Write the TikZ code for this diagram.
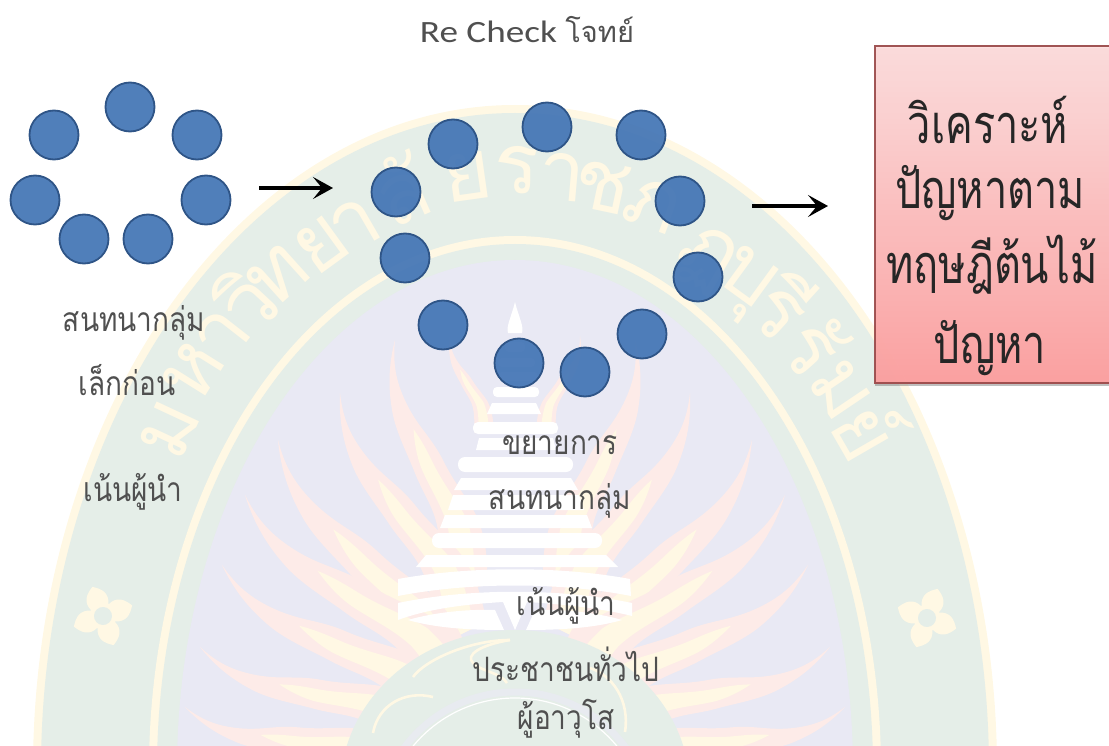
\documentclass[tikz,border=0pt]{standalone}
\usepackage{fontspec}
\setmainfont{Carlito}
\newfontfamily\thaifont[Script=Thai]{Loma}
\newfontfamily\titlefont[FakeStretch=1.2]{Carlito}
\usetikzlibrary{arrows.meta,shadows}
\definecolor{sealgreen}{HTML}{E5EEE8}
\definecolor{sealyellow}{HTML}{FFF8E4}
\definecolor{sealpurple}{HTML}{E9E9F4}
\definecolor{sealpink}{HTML}{FDEBE8}
\definecolor{memberfill}{HTML}{4375B5}
\definecolor{memberline}{HTML}{2F5587}
\definecolor{textgray}{HTML}{505050}
\definecolor{boxtop}{HTML}{FFDEDE}
\definecolor{boxbot}{HTML}{FF9F9F}
\definecolor{boxline}{HTML}{9A4A4A}
\tikzset{
  member/.style={circle,draw=memberline,line width=1.8pt,fill=memberfill,fill opacity=0.93,minimum size=49pt,inner sep=0pt},
  lbl/.style={inner sep=0pt,text=textgray,yscale=1.2,transform shape,font=\thaifont\fontsize{28}{34}\selectfont},
  boxlbl/.style={inner sep=0pt,text=black!85,yscale=1.3,transform shape,font=\thaifont\fontsize{41.5}{50}\selectfont},
  wmark/.style={inner sep=0pt,text=sealyellow,font=\thaifont\fontsize{84}{90}\selectfont},
  flowarrow/.style={line width=3.6pt,-{Stealth[length=20pt,width=22pt,inset=9pt]}},
  flame/.pic={
    \fill[sealpink] (0,0) .. controls (8,3) and (15,4) .. (25,2) .. controls (35,0) and (40,-4) .. (50,-6) .. controls (60,-8) and (68,-12) .. (75,-13) .. controls (85,-14) and (92,-12) .. (100,-10) -- (100,10) .. controls (92,8) and (84,4) .. (75,3) .. controls (66,2) and (60,5) .. (50,6) .. controls (42,7) and (33,9) .. (25,8) .. controls (15,7) and (7,4) .. (0,0);
    \fill[sealyellow] (35,2) .. controls (40,0) and (45,-1) .. (50,-2) .. controls (60,-4) and (68,-8) .. (75,-9) .. controls (85,-9) and (92,-7) .. (100,-5) -- (100,6) .. controls (92,3) and (84,0) .. (75,-1) .. controls (66,-1) and (58,2) .. (50,3) .. controls (45,3.5) and (40,3) .. (35,2);
  },
  flower/.pic={
    \fill[sealyellow] (-9,-9) .. controls (-14,-20) and (-8,-26) .. (0,-31) .. controls (8,-26) and (14,-20) .. (9,-9) .. controls (20,-14) and (26,-8) .. (31,0) .. controls (26,8) and (20,14) .. (9,9) .. controls (14,20) and (8,26) .. (0,31) .. controls (-8,26) and (-14,20) .. (-9,9) .. controls (-20,14) and (-26,8) .. (-31,0) .. controls (-26,-8) and (-20,-14) .. (-9,-9);
    \fill[sealgreen] (0,0) circle (9);
  }
}
\newcommand{\wmglyph}[5]{\node (#1) at (#2,#3) [wmark,rotate=#4] {#5};}
\newcommand{\flamefan}{
  \pic[scale=1.0,rotate=-70] at (450,336) {flame};
  \pic[scale=2.6,rotate=-75] at (395,340) {flame};
  \pic[scale=2.7,rotate=-63] at (340,393) {flame};
  \pic[scale=3.0,rotate=-55] at (278,440) {flame};
  \pic[scale=3.0,rotate=-43] at (245,495) {flame};
  \pic[scale=2.8,rotate=-35] at (222,565) {flame};
  \pic[scale=2.5,rotate=-22] at (200,647) {flame};
  \pic[scale=2.3,rotate=-17] at (185,707) {flame};
}
\begin{document}
\begin{tikzpicture}[x=1pt,y=-1pt]
\useasboundingbox (0,0) rectangle (1109,746);
\clip (0,0) rectangle (1109,746);
\fill [sealyellow] (515,770) ellipse (482 and 665);
\fill [sealgreen] (515,770) ellipse (474 and 657);
\fill [sealyellow] (515,770) ellipse (366 and 534);
\fill [sealgreen] (515,770) ellipse (358 and 526);
\fill [sealpurple] (515,770) ellipse (338 and 510);
\wmglyph{wma}{170}{430}{65}{ม}
\wmglyph{wmb}{193}{372}{58}{ห}
\wmglyph{wmc}{222}{335}{52}{า}
\wmglyph{wmd}{245}{300}{47}{วิ}
\wmglyph{wme}{278}{275}{42}{ท}
\wmglyph{wmf}{322}{245}{36}{ย}
\wmglyph{wmg}{355}{225}{30}{า}
\wmglyph{wmh}{400}{190}{24}{ลั}
\wmglyph{wmi}{468}{177}{8}{ย}
\wmglyph{wmj}{517}{170}{0}{ร}
\wmglyph{wmk}{562}{177}{-5}{า}
\wmglyph{wml}{602}{187}{-12}{ช}
\wmglyph{wmm}{653}{205}{-20}{ภ}
\wmglyph{wmn}{705}{260}{-30}{ฏ}
\wmglyph{wmo}{742}{285}{-36}{บุ}
\wmglyph{wmp}{785}{305}{-42}{รี}
\wmglyph{wmq}{815}{345}{-48}{รั}
\wmglyph{wmr}{840}{390}{-56}{ม}
\wmglyph{wms}{872}{428}{-60}{ย์}
\pic at (103,616) [rotate=20] {flower};
\pic at (927,618) [rotate=-20] {flower};
\flamefan
\begin{scope}[shift={(1030,0)},xscale=-1,transform shape]
\flamefan
\end{scope}
\fill [white] (515,302) .. controls (519,318) and (524,326) .. (522,333) -- (508,333) .. controls (506,326) and (511,318) .. (515,302);
\fill [white, rounded corners=4pt] (505,342) rectangle (525,352);
\fill [white, rounded corners=4pt] (498,358) rectangle (535,367);
\fill [white, rounded corners=4pt] (498,372) rectangle (538,381);
\fill [white, rounded corners=4pt] (493,387) rectangle (539,397);
\fill [white] (492,403) -- (536,403) -- (541,414) -- (487,414);
\fill [white, rounded corners=5pt] (473,422) rectangle (558,434);
\fill [white] (479,438) -- (553,438) -- (556,450) -- (476,450);
\fill [white, rounded corners=7pt] (458,457) rectangle (573,472);
\fill [white] (461,478) -- (571,478) -- (578,490) -- (454,490);
\fill [white] (453,495) -- (579,495) -- (584,510) -- (448,510);
\fill [white] (445,515) -- (587,515) -- (592,528) -- (440,528);
\fill [white, rounded corners=7pt] (432,533) rectangle (602,548);
\fill [white] (426,555) -- (606,555) -- (618,567) -- (416,567);
\fill [white] (398,579) .. controls (470,566) and (560,566) .. (630,579) -- (631,596) .. controls (560,582) and (470,582) .. (398,596);
\fill [white] (398,603) .. controls (470,588) and (560,588) .. (632,603) -- (632,616) .. controls (600,608) and (560,604) .. (527,602) -- (515,630) -- (503,602) .. controls (470,604) and (430,608) .. (398,620);
\fill [white] (408,620) .. controls (435,612) and (470,609) .. (495,610) -- (504,630) .. controls (470,630) and (435,628) .. (408,620);
\fill [white] (622,620) .. controls (595,612) and (560,609) .. (535,610) -- (526,630) .. controls (560,630) and (595,628) .. (622,620);
\fill [sealgreen] (515,790) ellipse (175 and 160);
\draw [sealpurple!70!sealgreen, line width=7pt] (515,830) circle (138);
\draw [sealyellow, line width=2.6pt] (373,733) .. controls (378,705) and (405,690) .. (433,697);
\draw [sealyellow, line width=2.6pt] (413,677) .. controls (425,660) and (470,640) .. (510,640);
\draw [sealyellow, line width=2.6pt] (510,640) .. controls (480,645) and (465,655) .. (473,663) .. controls (482,672) and (500,672) .. (507,683);
\draw [sealyellow, line width=2.6pt] (590,668) .. controls (612,675) and (630,700) .. (625,732);
\draw [white, line width=1.2pt] (515,830) circle (132);
\node (ringa) at (130,107) [member] {};
\node (ringb) at (54,135) [member] {};
\node (ringc) at (197,135) [member] {};
\node (ringd) at (35,200) [member] {};
\node (ringe) at (206,200) [member] {};
\node (ringf) at (84,239) [member] {};
\node (ringg) at (148,239) [member] {};
\node (wida) at (453,144) [member] {};
\node (widb) at (396,192) [member] {};
\node (widc) at (405,258) [member] {};
\node (widd) at (443,325) [member] {};
\node (wide) at (519,363) [member] {};
\node (widf) at (585,372) [member] {};
\node (widg) at (642,334) [member] {};
\node (widh) at (698,277) [member] {};
\node (widi) at (680,201) [member] {};
\node (widj) at (641,135) [member] {};
\node (widk) at (547,127) [member] {};
\node (probbox) at (1000,214.5) [draw=boxline,line width=1.4pt,top color=boxtop,bottom color=boxbot,opacity=0.93,minimum width=250pt,minimum height=337pt,drop shadow={shadow xshift=0pt,shadow yshift=-2.5pt,opacity=0.5}] {};
\coordinate (arrowaa) at (259,188);
\coordinate (arrowab) at (333,188);
\coordinate (arrowba) at (752,206);
\coordinate (arrowbb) at (828,206);
\draw [flowarrow] (arrowaa) -- (arrowab);
\draw [flowarrow] (arrowba) -- (arrowbb);
\node (title) at (527,30) [inner sep=0pt,text=textgray,font=\titlefont\fontsize{31}{38}\selectfont] {Re Check {\thaifont\fontsize{29}{38}\selectfont โจทย์}};
\node (smalla) at (134,323) [lbl] {สนทนากลุ่ม};
\node (smallb) at (127,380) [lbl] {เล็กก่อน};
\node (smallc) at (133,492) [lbl] {เน้นผู้นำ};
\node (widea) at (560,445) [lbl] {ขยายการ};
\node (wideb) at (560,501) [lbl] {สนทนากลุ่ม};
\node (widec) at (566,606) [lbl] {เน้นผู้นำ};
\node (wided) at (566,664) [lbl] {ประชาชนทั่วไป};
\node (widee) at (566,719) [lbl] {ผู้อาวุโส};
\node (boxa) at (988,120) [boxlbl] {วิเคราะห์};
\node (boxb) at (990,193) [boxlbl] {ปัญหาตาม};
\node (boxc) at (992,265) [boxlbl] {ทฤษฎีต้นไม้};
\node (boxd) at (990,348) [boxlbl] {ปัญหา};
\end{tikzpicture}
\end{document}
